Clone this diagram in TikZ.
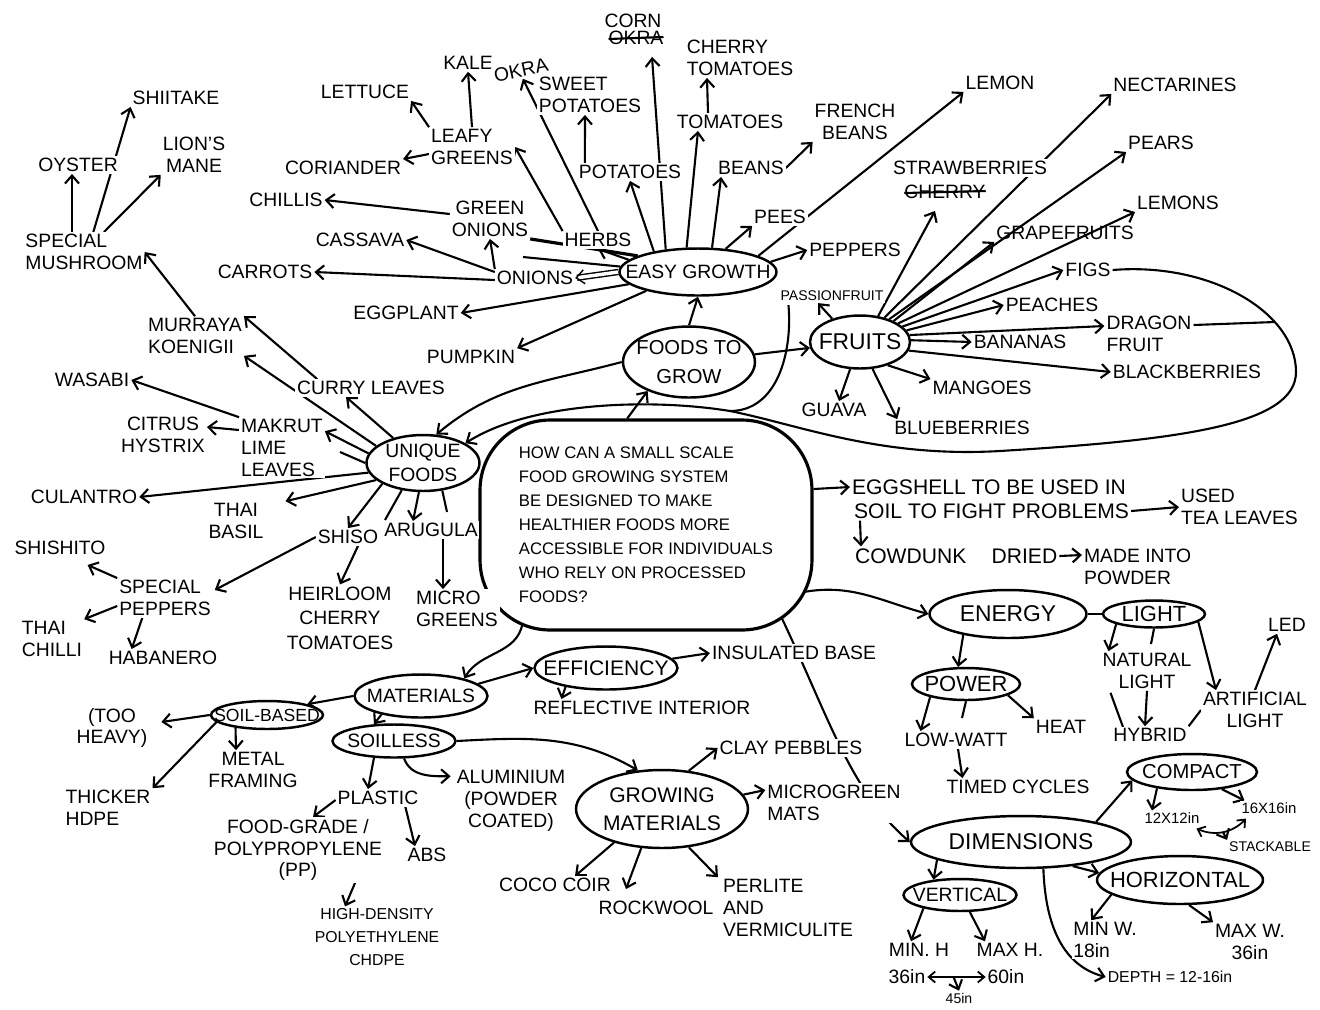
\documentclass[tikz,border=0pt]{standalone}
\usepackage{fontspec}
\setmainfont{Liberation Sans}
\usetikzlibrary{arrows.meta,shapes.geometric,backgrounds,calc}
\newcommand{\mfont}{\fontsize{11}{12.5}\selectfont}
\newcommand{\bfnt}{\fontsize{13}{16}\selectfont}
\newcommand{\efnt}{\fontsize{12.5}{14}\selectfont}
\newcommand{\sfnt}{\fontsize{8}{10}\selectfont}
\newcommand{\mdfnt}{\fontsize{9}{13}\selectfont}
\newcommand{\qfnt}{\fontsize{9.5}{13.7}\selectfont}

\begin{document}
\begin{tikzpicture}[x=0.02cm,y=-0.02cm,
  lbl/.style={font=\mfont,inner sep=1pt,fill=white,align=center},
  lbll/.style={lbl,align=left},
  sml/.style={lbl,font=\sfnt},
  mdl/.style={lbl,font=\mdfnt},
  bub/.style 2 args={ellipse,draw,line width=1.4pt,fill=white,inner sep=0pt,
                     minimum width=#1,minimum height=#2},
  bt/.style={font=\mfont,align=center,inner sep=0pt},
  arr/.style={-{Straight Barb[length=1.6mm,width=2.8mm]},line width=1.2pt},
  darr/.style={{Straight Barb[length=1.3mm,width=2.2mm]}-{Straight Barb[length=1.3mm,width=2.2mm]},line width=1pt},
  ln/.style={line width=1.2pt}
]
\useasboundingbox (0,0) rectangle (1320,1009);

\node[draw,line width=1.8pt,rounded corners=1.4cm,minimum width=6.64cm,
      minimum height=4.2cm,align=left,font=\qfnt,fill=white] (qb) at (646,525)
  {HOW CAN A SMALL SCALE\\FOOD GROWING SYSTEM\\BE DESIGNED TO MAKE\\
   HEALTHIER FOODS MORE\\ACCESSIBLE FOR INDIVIDUALS\\WHO RELY ON PROCESSED\\FOODS?};

\node[bub={2.64cm}{1.42cm},label={[bt,font=\fontsize{11.5}{16}\selectfont]center:FOODS TO\\GROW}] (ftg) at (689,362) {};
\node[bub={3.14cm}{0.94cm},label={[bt]center:EASY GROWTH}] (eg) at (698,272) {};
\node[bub={2cm}{1.06cm},label={[bt,font=\bfnt]center:FRUITS}] (fr) at (860,342) {};
\node[bub={2.26cm}{1.12cm},label={[bt,font=\fontsize{11}{13.5}\selectfont]center:UNIQUE\\FOODS}] (uf) at (423,463) {};
\node[bub={3.14cm}{0.96cm},label={[bt,font=\bfnt]center:ENERGY}] (en) at (1008,614) {};
\node[bub={2.04cm}{0.54cm},label={[bt,font=\efnt]center:LIGHT}] (lgt) at (1154,614) {};
\node[bub={2.16cm}{0.64cm},label={[bt,font=\efnt]center:POWER}] (pw) at (966,684) {};
\node[bub={2.66cm}{0.86cm},label={[bt]center:MATERIALS}] (mt) at (421,696) {};
\node[bub={2.86cm}{0.86cm},label={[bt,font=\fontsize{12}{14}\selectfont]center:EFFICIENCY}] (ef) at (606,668) {};
\node[bub={2.24cm}{0.56cm},label={[bt,font=\fontsize{10}{12}\selectfont]center:SOIL-BASED}] (sbs) at (267,715) {};
\node[bub={2.46cm}{0.66cm},label={[bt]center:SOILLESS}] (sl) at (394,741) {};
\node[bub={3.44cm}{1.56cm},label={[bt,font=\fontsize{12}{16}\selectfont]center:GROWING\\MATERIALS}] (gm) at (662,809) {};
\node[bub={4.4cm}{1.04cm},label={[bt,font=\bfnt]center:DIMENSIONS}] (dm) at (1021,842) {};
\node[bub={2.6cm}{0.72cm},label={[bt,font=\fontsize{11.5}{13}\selectfont]center:COMPACT}] (cm) at (1192,772) {};
\node[bub={2.26cm}{0.64cm},label={[bt]center:VERTICAL}] (vt) at (960,895) {};
\node[bub={3.32cm}{0.96cm},label={[bt,font=\efnt]center:HORIZONTAL}] (hz) at (1180,880) {};

\node[lbll] (sm) at (84,252) {SPECIAL\\MUSHROOM};
\node[lbl] (oy) at (78,165) {OYSTER};
\node[lbl] (sh) at (176,98) {SHIITAKE};
\node[lbl] (lm) at (194,155) {LION'S\\MANE};
\node[lbll] (mk) at (195,336) {MURRAYA\\KOENIGII};

\node[lbl] (lt) at (365,92) {LETTUCE};
\node[lbl] (ka) at (468,63) {KALE};
\node[lbl,rotate=12] (ok) at (521,70) {OKRA};
\node[lbl] (co) at (633,21) {CORN};
\node[lbl] (ok2) at (636,38) {OKRA};
\node[lbll] (sp) at (590,95) {SWEET\\POTATOES};
\node[lbll] (ct) at (740,58) {CHERRY\\TOMATOES};
\node[lbl] (to) at (730,122) {TOMATOES};
\node[lbll] (lg) at (472,147) {LEAFY\\GREENS};
\node[lbl] (cr) at (343,168) {CORIANDER};
\node[lbl] (ch) at (286,200) {CHILLIS};
\node[lbl] (go) at (490,219) {GREEN\\ONIONS};
\node[lbl] (hb) at (598,240) {HERBS};
\node[lbl] (cs) at (360,240) {CASSAVA};
\node[lbl] (ca) at (265,272) {CARROTS};
\node[lbl] (on) at (535,278) {ONIONS};
\node[lbl] (ep) at (406,313) {EGGPLANT};
\node[lbl] (pk) at (471,357) {PUMPKIN};
\node[lbl] (po) at (630,172) {POTATOES};
\node[lbl] (bn) at (751,168) {BEANS};
\node[lbl] (fb) at (855,122) {FRENCH\\BEANS};
\node[lbl] (pe) at (780,217) {PEES};
\node[lbl] (pp) at (855,250) {PEPPERS};

\node[lbl] (lm2) at (1000,83) {LEMON};
\node[lbl] (nc) at (1175,85) {NECTARINES};
\node[lbl] (pr) at (1161,143) {PEARS};
\node[lbl] (sb) at (970,168) {STRAWBERRIES};
\node[lbl] (ch2) at (945,192) {CHERRY};
\node[lbl] (ls) at (1178,203) {LEMONS};
\node[lbl,fill=none] (gf) at (1065,233) {GRAPEFRUITS};
\node[lbl] (fg) at (1088,270) {FIGS};
\node[lbl] (pc) at (1052,305) {PEACHES};
\node[sml] (pf) at (832,296) {PASSIONFRUIT};
\node[lbll] (df) at (1149,334) {DRAGON\\FRUIT};
\node[lbl] (ba) at (1020,342) {BANANAS};
\node[lbl] (bb) at (1187,372) {BLACKBERRIES};
\node[lbl] (mg) at (982,388) {MANGOES};
\node[lbl] (gv) at (834,410) {GUAVA};
\node[lbl] (bl) at (962,428) {BLUEBERRIES};

\node[lbl] (cl) at (371,388) {CURRY LEAVES};
\node[lbl] (ws) at (92,380) {WASABI};
\node[lbll] (ml) at (282,448) {MAKRUT\\LIME\\LEAVES};
\node[lbl] (cy) at (163,435) {CITRUS\\HYSTRIX};
\node[lbl] (cu) at (84,497) {CULANTRO};
\node[lbl] (tb) at (236,521) {THAI\\BASIL};
\node[lbl] (ss) at (348,537) {SHISO};
\node[lbl] (ar) at (431,530) {ARUGULA};
\node[lbll] (spp) at (165,598) {SPECIAL\\PEPPERS};
\node[lbl] (si) at (60,548) {SHISHITO};
\node[lbll] (tc) at (52,639) {THAI\\CHILLI};
\node[lbl] (hn) at (163,658) {HABANERO};
\node[lbl,font=\fontsize{11}{14}\selectfont] (hl) at (340,618) {HEIRLOOM\\CHERRY\\TOMATOES};
\node[lbll] (mc) at (457,609) {MICRO\\GREENS};

\node[lbl,font=\fontsize{12}{14}\selectfont,anchor=west] (es1) at (850,487) {EGGSHELL TO BE USED IN};
\node[lbl,font=\fontsize{12}{14}\selectfont,anchor=west] (es2) at (852,511) {SOIL TO FIGHT PROBLEMS};
\node[lbll,anchor=west] (tl) at (1179,507) {USED\\TEA LEAVES};
\node[lbl,font=\fontsize{12}{14}\selectfont,anchor=west] (cd) at (853,556) {COWDUNK\hspace{1.2em}DRIED};
\node[lbll,anchor=west] (mi) at (1082,567) {MADE INTO\\POWDER};
\node[lbl] (nl) at (1147,671) {NATURAL\\LIGHT};
\node[lbl] (al) at (1255,710) {ARTIFICIAL\\LIGHT};
\node[lbl] (led) at (1287,625) {LED};
\node[lbl] (hy) at (1150,735) {HYBRID};
\node[lbl] (lw) at (956,740) {LOW-WATT};
\node[lbl] (ht) at (1061,727) {HEAT};
\node[lbl] (tcy) at (1018,787) {TIMED CYCLES};

\node[lbl] (ib) at (794,653) {INSULATED BASE};
\node[lbl] (ri) at (642,708) {REFLECTIVE INTERIOR};
\node[lbl] (th) at (112,728) {(TOO\\HEAVY)};
\node[lbl] (mf) at (253,770) {METAL\\FRAMING};
\node[lbll] (tk) at (108,808) {THICKER\\HDPE};
\node[lbl] (pl) at (378,798) {PLASTIC};
\node[lbl] (al2) at (511,801) {ALUMINIUM\\(POWDER\\COATED)};
\node[lbl] (fp) at (298,850) {FOOD-GRADE /\\POLYPROPYLENE\\(PP)};
\node[lbl] (abs) at (427,855) {ABS};
\node[mdl] (hd) at (377,937) {HIGH-DENSITY\\POLYETHYLENE\\CHDPE};
\node[lbl] (cp) at (791,748) {CLAY PEBBLES};
\node[lbll] (mm) at (834,803) {MICROGREEN\\MATS};
\node[lbl] (cc) at (555,885) {COCO COIR};
\node[lbl] (rw) at (656,908) {ROCKWOOL};
\node[lbll] (pv) at (788,908) {PERLITE\\AND\\VERMICULITE};
\node[sml,font=\fontsize{8.5}{10}\selectfont] (c12) at (1172,818) {12X12in};
\node[sml,font=\fontsize{8.5}{10}\selectfont] (c16) at (1269,808) {16X16in};
\node[sml] (stk) at (1270,847) {STACKABLE};
\node[lbl] (mnh) at (919,950) {MIN. H};
\node[lbl] (mxh) at (1010,950) {MAX H.};
\node[lbl] (h36) at (907,977) {36in};
\node[lbl] (h60) at (1006,977) {60in};
\node[sml] (h45) at (959,998) {45in};
\node[lbll] (mnw) at (1105,940) {MIN W.\\18in};
\node[lbl] (mxw) at (1250,942) {MAX W.\\36in};
\node[mdl] (dp) at (1170,977) {DEPTH = 12-16in};

\coordinate (gs) at (523,257);
\coordinate (us1) at (340,452);
\coordinate (us2) at (385,520);
\coordinate (us3) at (447,512);
\coordinate (ls1) at (1151,644);
\coordinate (ns1) at (1123,727);
\coordinate (ps1) at (962,718);
\coordinate (dj) at (1275,322);
\coordinate (pj) at (730,411);

\begin{scope}[on background layer]
  \fill[white] (0,0) rectangle (1320,1009);
  \draw[arr] ($(sm.north)+(-12,0)$) -- ($(oy.south)+(-6,0)$);
  \draw[arr] (sm.65) -- (sh.south west);
  \draw[arr] (sm.45) -- (lm.south west);
  \draw[arr] (mk.north) -- (sm.east);

  \draw[arr] (ftg.north) -- (eg.south);
  \draw[arr] (ftg) -- (fr);
  \draw[arr] (ftg.west) to[out=195,in=40] (uf.65);
  \draw[arr] (qb.100) -- (ftg.215);
  \draw[arr] (hb.north west) -- (lg.east);
  \draw[arr] (hb.north) -- (ok.south);
  \draw[arr] (eg.170) -- (hb.south);
  \draw[line width=1.8pt] (eg.165) -- (go.south east);
  \draw[ln] (eg.176) -- (gs);
  \draw[arr,double,double distance=2pt,line width=0.8pt] (eg.west) -- (on.east);
  \draw[arr] (on.north west) -- (go.south);
  \draw[arr] ($(on.west)+(0,-6)$) -- (cs.east);
  \draw[arr] ($(on.west)+(0,2)$) -- (ca.east);
  \draw[arr] (eg.190) -- (ep.east);
  \draw[arr] (eg.200) -- (pk.north east);
  \draw[arr] ($(go.west)+(0,-5)$) -- (ch.east);
  \draw[arr] ($(lg.west)+(0,7)$) -- (cr.north east);
  \draw[arr] (lg.north west) -- (lt.south east);
  \draw[arr] (lg.north) -- (ka.south);
  \draw[arr] (eg.155) -- (po.south);
  \draw[arr] ($(po.north west)+(8,0)$) -- ($(sp.south)+(-5,0)$);
  \draw[arr] (eg.145) -- ($(ok2.south)+(16,10)$);
  \draw[arr] (eg.115) -- ($(to.south)+(-32,0)$);
  \draw[arr] ($(to.north)+(-22,0)$) -- ($(ct.south)+(-33,0)$);
  \draw[arr] (eg.60) -- ($(bn.south west)+(5,0)$);
  \draw[arr] (bn.east) -- (fb.south west);
  \draw[arr] (eg.40) -- (pe.south west);
  \draw[arr] (eg.15) -- (lm2.south west);
  \draw[arr] (eg.8) -- (pp.west);

  \draw[arr] (fr.55) -- ($(ch2.south)+(-10,10)$);
  \draw[arr] (fr.45) -- (nc.south west);
  \draw[arr] (fr.38) -- (pr.south west);
  \draw[arr] (fr.32) -- (gf.south west);
  \draw[arr] (fr.26) -- (ls.south west);
  \draw[arr] (fr.20) -- (fg.west);
  \draw[arr] (fr.14) -- (pc.west);
  \draw[arr] (fr.8) -- ($(df.west)+(0,-8)$);
  \draw[arr] (fr.2) -- (ba.west);
  \draw[arr] (fr.-10) -- (bb.west);
  \draw[arr] (fr.-40) -- (mg.north west);
  \draw[arr] (fr.-65) -- ($(bl.north west)+(5,0)$);
  \draw[arr] (fr.-110) -- ($(gv.north)+(5,0)$);
  \draw[arr] (fr.140) -- ($(pf.south)+(-14,0)$);
  \draw[arr] (fg.east) .. controls (1210,262) and (1296,312) .. (1296,372)
    .. controls (1296,425) and (1180,440) .. (1000,451)
    .. controls (880,458) and (800,425) .. (730,411)
    .. controls (650,398) and (530,402) .. (uf.25);
  \draw[ln] ($(df.east)+(0,-9)$) -- (dj);
  \draw[ln] ($(pf.south west)+(10,2)$) to[out=-85,in=0] (pj);

  \draw[arr] (uf.140) -- ($(cl.south)+(-25,0)$);
  \draw[arr] ($(cl.north west)+(22,0)$) -- (mk.north east);
  \draw[arr] (uf.160) -- (mk.south east);
  \draw[arr] (ml.north west) -- (ws.east);
  \draw[arr] ($(ml.west)+(0,-18)$) -- ($(cy.east)+(0,-8)$);
  \draw[arr] (uf.170) -- ($(ml.north east)+(0,14)$);
  \draw[ln] (uf.180) -- (us1);
  \draw[arr] (uf.190) -- (cu.east);
  \draw[arr] (uf.200) -- ($(tb.north east)+(20,0)$);
  \draw[arr] (uf.207) -- (ss.north);
  \draw[ln] (uf.232) -- (us2);
  \draw[arr] (uf.262) -- ($(ar.north)+(-18,0)$);
  \draw[ln] (uf.305) -- (us3);
  \draw[arr] (ss.west) -- ($(spp.east)+(2,-8)$);
  \draw[arr] (spp.north west) -- ($(si.south east)+(-20,8)$);
  \draw[arr] ($(spp.west)+(0,8)$) -- (tc.north east);
  \draw[arr] ($(spp.south west)+(25,0)$) -- ($(hn.north west)+(25,0)$);
  \draw[arr] ($(ss.south)+(10,0)$) -- (hl.north);
  \draw[arr] ($(ar.south)+(12,0)$) -- ($(mc.north)+(-14,0)$);

  \draw[arr] ($(qb.east)+(0,-36)$) -- (es1.west);
  \draw[arr] (es2.east) -- (tl.west);
  \draw[arr] ($(es2.south west)+(8,0)$) -- ($(cd.north west)+(8,0)$);
  \draw[arr] (cd.east) -- ($(mi.west)+(0,-12)$);
  \draw[arr] ($(qb.east)+(-10,67)$) to[out=10,in=165] (en.west);
  \draw[ln] (en.east) -- (lgt.west);
  \draw[arr] (lgt.195) -- ($(nl.north west)+(8,0)$);
  \draw[ln] (lgt.south) -- (ls1);
  \draw[arr] (lgt.-10) -- ($(al.north west)+(15,0)$);
  \draw[arr] (al.north) -- ($(led.south)+(-10,0)$);
  \draw[arr] (nl.south) -- ($(hy.north)+(-5,0)$);
  \draw[ln] ($(nl.south west)+(10,2)$) -- (ns1);
  \draw[ln] (al.west) -- (hy.north east);
  \draw[arr] (en.205) -- (pw.115);
  \draw[arr] (pw.200) -- ($(lw.north west)+(18,0)$);
  \draw[ln] (pw.south) -- (ps1);
  \draw[arr] (pw.-15) -- (ht.north west);
  \draw[arr] ($(lw.south)+(2,0)$) -- ($(tcy.north west)+(18,0)$);

  \draw[arr] ($(qb.south west)+(44,-8)$) to[out=-100,in=60] (mt.22);
  \draw[arr] (mt.12) -- (ef.west);
  \draw[arr] (ef.8) -- (ib.west);
  \draw[arr] (ef.205) -- ($(ri.north west)+(30,0)$);
  \draw[arr] (mt.west) -- (sbs.15);
  \draw[arr] (mt.205) -- (sl.140);
  \draw[arr] (sbs.west) -- ($(th.east)+(12,-6)$);
  \draw[arr] (sbs.-158) -- ($(mf.north)+(-17,0)$);
  \draw[arr] (sbs.-172) -- (tk.north east);
  \draw[arr] (sl.-140) -- ($(pl.north)+(-10,0)$);
  \draw[arr] (sl.-60) to[out=-70,in=180] ($(al2.north west)+(-4,8)$);
  \draw[arr] (sl.east) to[out=3,in=150] (gm.122);
  \draw[arr] ($(pl.west)+(0,2)$) -- ($(fp.north)+(15,0)$);
  \draw[arr] ($(pl.south east)+(-15,0)$) -- ($(abs.north)+(-12,0)$);
  \draw[arr] ($(fp.south east)+(-25,-10)$) -- ($(hd.north)+(-32,0)$);
  \draw[arr] (gm.55) -- (cp.west);
  \draw[arr] (gm.10) -- ($(mm.west)+(0,-13)$);
  \draw[arr] (gm.-145) -- ($(cc.north)+(20,0)$);
  \draw[arr] (gm.-118) -- ($(rw.north)+(-30,-10)$);
  \draw[arr] (gm.-55) -- ($(pv.north west)+(-3,0)$);
  \draw[arr] ($(qb.south east)+(-32,-14)$) .. controls (830,720) and (850,790) .. (dm.west);

  \draw[arr] (dm.15) -- (cm.188);
  \draw[arr] (cm.205) -- ($(c12.north)+(-20,0)$);
  \draw[arr] (cm.-30) -- ($(c16.north west)+(5,0)$);
  \draw[darr] ($(c12.south east)+(-5,3)$) to[bend right=35] coordinate[pos=0.5] (skm) ($(c16.south)+(-23,3)$);
  \draw[arr] (skm) -- (stk.north west);
  \draw[arr] (dm.192) -- (vt.150);
  \draw[arr] (dm.-25) -- (hz.175);
  \draw[arr] (dm.-50) to[out=-88,in=165] (dp.west);
  \draw[arr] (vt.-160) -- ($(mnh.north)+(-8,0)$);
  \draw[arr] (vt.-60) -- ($(mxh.north)+(-25,0)$);
  \draw[darr] (h36.east) -- coordinate[pos=0.45] (hm) (h60.west);
  \draw[arr] (hm) -- (h45.north);
  \draw[arr] (hz.-168) -- ($(mnw.north west)+(20,0)$);
  \draw[arr] (hz.-70) -- (mxw.north west);
\end{scope}

\draw[line width=1.2pt] ($(ok2.west)+(2,1)$) -- ($(ok2.east)+(-2,-1)$);
\draw[line width=1.2pt] ($(ch2.west)+(2,1)$) -- ($(ch2.east)+(-2,-1)$);
\end{tikzpicture}
\end{document}
